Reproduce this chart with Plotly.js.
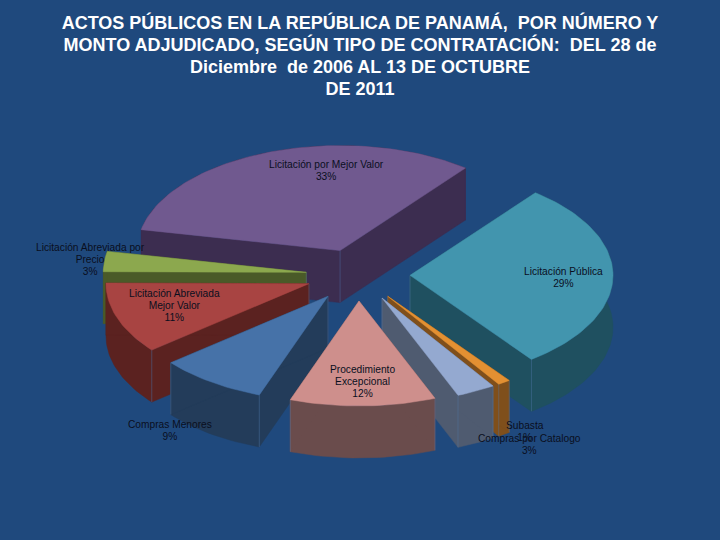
<!DOCTYPE html>
<html><head><meta charset="utf-8">
<script src="https://cdn.plot.ly/plotly-3.0.1.min.js"></script>
<style>html,body{margin:0;padding:0;background:#1F497D}</style></head>
<body><div id="chart" style="width:720px;height:540px"></div>
<script>
// Data, clockwise from the first slice
const categories = ["Licitación por Mejor Valor","Licitación Pública","Subasta","Compras por Catalogo","Procedimiento Excepcional","Compras Menores","Licitación Abreviada Mejor Valor","Licitación Abreviada por Precio"];
const values = [32.4,29.2,1.0,3.1,11.6,8.6,11.0,3.1];
const labelLines = [["Licitación por Mejor Valor","33%"],["Licitación Pública","29%"],["Subasta","1%"],["Compras por Catalogo","3%"],["Procedimiento","Excepcional","12%"],["Compras Menores","9%"],["Licitación Abreviada","Mejor Valor","11%"],["Licitación Abreviada por","Precio","3%"]];
const topColors = ["#70598F","#4295AE","#E39032","#94A9D0","#CE8F8C","#4672A8","#A84442","#8CA84E"];
const sideColors = ["#3C2D50","#1F5060","#7F4F1B","#4F5B70","#6A4C4C","#233C5A","#5B2220","#4A5A28"];
const labelX = [326,563,525,529,362,170,174,90];
const labelY = [170,277,431,444,381,430,305,259];

const titleLines = ["ACTOS PÚBLICOS EN LA REPÚBLICA DE PANAMÁ,\u00A0 POR NÚMERO Y","MONTO ADJUDICADO, SEGÚN TIPO DE CONTRATACIÓN:\u00A0 DEL 28 de","Diciembre\u00A0 de 2006 AL 13 DE OCTUBRE","DE 2011"];

// Projection of the tilted pie
const cx = 358, cy = 275, R = 203, tilt = 0.517, pull = 52, pullTilt = 0.5, depth = 52, startDeg = -78.5;
const total = values.reduce((a,b)=>a+b,0);
const rad = d => d*Math.PI/180;

const slices = [];
let acc = startDeg;
values.forEach((v,i)=>{
  const a0 = acc, a1 = acc + v/total*360; acc = a1;
  const mid = (a0+a1)/2;
  const ox = cx + pull*Math.sin(rad(mid)), oy = cy - pull*pullTilt*Math.cos(rad(mid));
  const arcX = [], arcY = [];
  const n = Math.max(4, Math.ceil((a1-a0)/1.5));
  for (let k=0;k<=n;k++){
    const a = a0 + (a1-a0)*k/n;
    arcX.push(ox + R*Math.sin(rad(a)));
    arcY.push(oy - R*tilt*Math.cos(rad(a)));
  }
  slices.push({i,a0,a1,mid,ox,oy,arcX,arcY});
});

function poly(x,y,color){
  return {type:"scatter",mode:"lines",x,y,fill:"toself",fillcolor:color,
    line:{color:color,width:0.5},hoverinfo:"skip",showlegend:false};
}
function edge(x,y){
  return {type:"scatter",mode:"lines",x:[x,x],y:[y,y+depth],
    line:{color:"rgba(90,125,175,0.4)",width:1},hoverinfo:"skip",showlegend:false};
}
// back slices first, nearest slices last
const order = slices.slice().sort((a,b)=>(-Math.cos(rad(a.mid)))-(-Math.cos(rad(b.mid))));
const traces = [];
order.forEach(s=>{
  const side = sideColors[s.i], top = topColors[s.i];
  const last = s.arcX.length-1;
  const wallBottom = s.arcY.map(y=>y+depth);
  traces.push(poly(s.arcX.concat(s.arcX.slice().reverse()), s.arcY.concat(wallBottom.slice().reverse()), side));
  [[0,s.a0],[last,s.a1]].forEach(([j,a])=>{
    traces.push(poly([s.ox,s.arcX[j],s.arcX[j],s.ox,s.ox],[s.oy,s.arcY[j],s.arcY[j]+depth,s.oy+depth,s.oy],side));
    if (Math.cos(rad(a))<0) traces.push(edge(s.arcX[j],s.arcY[j]));
  });
  traces.push(edge(s.ox,s.oy));
  traces.push(poly([s.ox].concat(s.arcX,[s.ox]),[s.oy].concat(s.arcY,[s.oy]),top));
});

// base size sets the line spacing, the inner span sets the glyph size
const sized = (lines,px) => lines.map(t=>`<span style="font-size:${px}px">${t}</span>`).join("<br>");

const annotations = labelLines.map((lines,i)=>({
  text:sized(lines,10.2),x:labelX[i],y:labelY[i],xref:"x",yref:"y",showarrow:false,align:"center",
  xanchor:"center",yanchor:"middle",
  font:{family:"Liberation Sans, Arial, sans-serif",size:9.3,color:"#0A0F1E"}
}));

const axis = {visible:false,fixedrange:true,showgrid:false,zeroline:false};
Plotly.newPlot("chart",traces,{
  width:720,height:540,
  paper_bgcolor:"#1F497D",plot_bgcolor:"#1F497D",
  margin:{l:0,r:0,t:0,b:0},showlegend:false,
  title:{text:sized(titleLines,18),x:0.5,xanchor:"center",y:0.9467,yanchor:"top",
    font:{family:"Liberation Sans, Arial, sans-serif",size:17.1,color:"#FFFFFF",weight:"bold"}},
  xaxis:Object.assign({range:[0,720]},axis),
  yaxis:Object.assign({range:[540,0]},axis),
  annotations
},{displayModeBar:false,staticPlot:true});
</script></body></html>
